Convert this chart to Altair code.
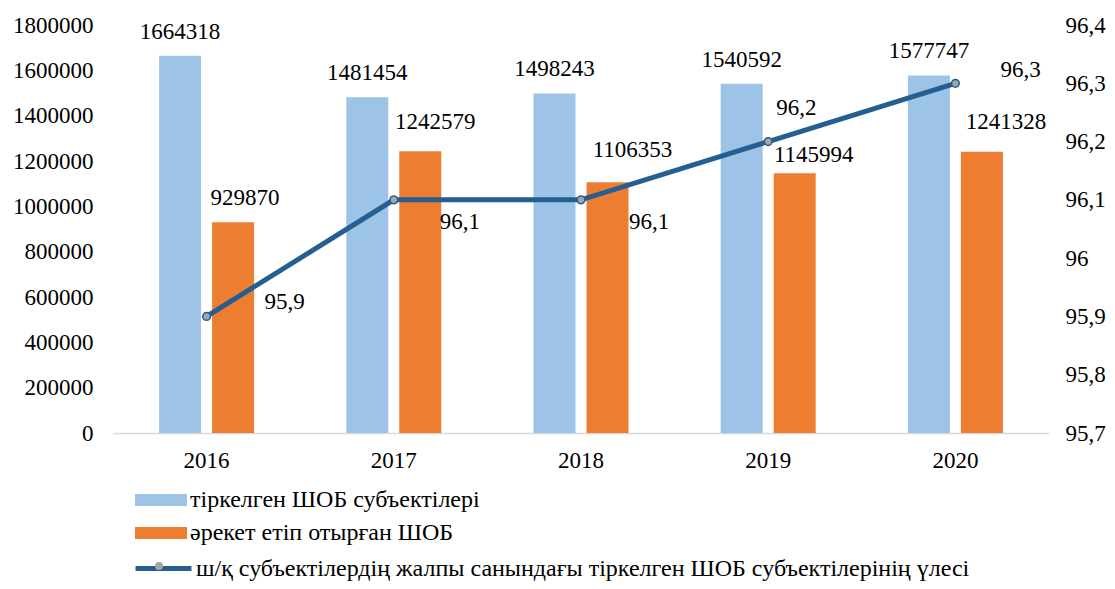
import altair as alt
import pandas as pd

# ---- data ----
years = ["2016", "2017", "2018", "2019", "2020"]
registered = [1664318, 1481454, 1498243, 1540592, 1577747]
active = [929870, 1242579, 1106353, 1145994, 1241328]
share = [95.9, 96.1, 96.1, 96.2, 96.3]

s1 = "тіркелген ШОБ субъектілері"
s2 = "әрекет етіп отырған ШОБ"
s3 = "ш/қ субъектілердің жалпы санындағы тіркелген ШОБ субъектілерінің үлесі"

left_ticks = [0, 200000, 400000, 600000, 800000, 1000000, 1200000, 1400000, 1600000, 1800000]
right_ticks = [95.7, 95.8, 95.9, 96.0, 96.1, 96.2, 96.3, 96.4]

# ---- style ----
BLUE = "#9DC3E6"
ORANGE = "#ED7D31"
LINE = "#255E91"
MARKER = "#A5A5A5"
FONT = "Liberation Serif"
FS = 23
LFS = 24

# label offsets (dx, dy) per year (style only)
orange_off = {"2016": (12, -24), "2017": (15, -29), "2018": (25, -32), "2019": (19, -18), "2020": (24, -30)}
line_off = {"2016": (58, -14), "2017": (46, 22), "2018": (48, 22), "2019": (8, -34), "2020": (45, -13)}

bars_df = pd.DataFrame({
    "year": years * 2,
    "series": [s1] * len(years) + [s2] * len(years),
    "value": registered + active,
})
line_df = pd.DataFrame({"year": years, "share": share, "series": [s3] * len(years), "pt": ["pt"] * len(years)})

x = alt.X("year:N", sort=years,
          scale=alt.Scale(paddingInner=0.4925, paddingOuter=0.2462),
          axis=alt.Axis(title=None, labelAngle=0, ticks=False, grid=False,
                        domainColor="#D9D9D9", domainWidth=1.5, labelPadding=16,
                        labelFont=FONT, labelFontSize=FS, labelColor="#000"))
xo = alt.XOffset("series:N", sort=[s1, s2],
                 scale=alt.Scale(domain=[s1, s2], paddingInner=0.2075, paddingOuter=0))
yL = alt.Y("value:Q", scale=alt.Scale(domain=[0, 1800000], nice=False),
           axis=alt.Axis(title=None, values=left_ticks, format="d", domain=False,
                         ticks=False, grid=False, labelPadding=20,
                         labelFont=FONT, labelFontSize=FS, labelColor="#000"))
yR = alt.Y("share:Q", scale=alt.Scale(domain=[95.7, 96.4], nice=False, zero=False),
           axis=alt.Axis(title=None, orient="right", values=right_ticks,
                         labelExpr="replace(format(datum.value, '.1~f'), '.', ',')",
                         domain=False, ticks=False, grid=False, labelPadding=16,
                         labelFont=FONT, labelFontSize=FS, labelColor="#000"))

bars = alt.Chart(bars_df).mark_bar().encode(
    x=x, xOffset=xo, y=yL,
    fill=alt.Fill("series:N", scale=alt.Scale(domain=[s1, s2], range=[BLUE, ORANGE]),
                  legend=alt.Legend(title=None, orient="none", legendX=35, legendY=462,
                                    direction="vertical",
                                    symbolType="M-2,-0.46H2V0.46H-2Z", symbolSize=676,
                                    symbolStrokeWidth=0, labelOffset=16, rowPadding=8,
                                    padding=0, labelLimit=0,
                                    labelFont=FONT, labelFontSize=LFS, labelColor="#000")),
)

blue_labels = alt.Chart(bars_df).transform_filter(
    alt.FieldEqualPredicate(field="series", equal=s1)
).mark_text(dy=-24, baseline="middle", font=FONT, fontSize=FS, color="#000").encode(
    x=x, xOffset=xo, y=yL, text=alt.Text("value:Q", format="d")
)

orange_labels = []
for yr in years:
    dx, dy = orange_off[yr]
    orange_labels.append(
        alt.Chart(bars_df).transform_filter(
            alt.FieldEqualPredicate(field="series", equal=s2)
        ).transform_filter(
            alt.FieldEqualPredicate(field="year", equal=yr)
        ).mark_text(dx=dx, dy=dy, baseline="middle", font=FONT, fontSize=FS, color="#000").encode(
            x=x, xOffset=xo, y=yL, text=alt.Text("value:Q", format="d")
        )
    )

line = alt.Chart(line_df).mark_line(strokeWidth=5).encode(
    x=x, y=yR,
    stroke=alt.Stroke("series:N", scale=alt.Scale(domain=[s3], range=[LINE]),
                      legend=alt.Legend(title=None, orient="none", legendX=35, legendY=528,
                                        direction="vertical",
                                        symbolType="M-2.15,0H2.15", symbolSize=676,
                                        symbolStrokeWidth=5, labelOffset=17, padding=0,
                                        labelLimit=0,
                                        labelFont=FONT, labelFontSize=LFS, labelColor="#000")),
)

points = alt.Chart(line_df).mark_point(filled=True, size=60, opacity=1, fill=MARKER,
                                       stroke=LINE, strokeWidth=1.5).encode(
    x=x, y=yR,
    shape=alt.Shape("pt:N", scale=alt.Scale(domain=["pt"], range=["circle"]),
                    legend=alt.Legend(title=None, orient="none", legendX=34, legendY=529,
                                      direction="vertical", symbolType="circle", symbolSize=64,
                                      symbolFillColor=MARKER, symbolStrokeColor=LINE,
                                      symbolStrokeWidth=1.5, labelExpr="''", padding=0,
                                      labelFont=FONT, labelFontSize=LFS)),
)

line_labels = []
for yr in years:
    dx, dy = line_off[yr]
    line_labels.append(
        alt.Chart(line_df).transform_filter(
            alt.FieldEqualPredicate(field="year", equal=yr)
        ).transform_calculate(
            lab="replace(format(datum.share, '.1f'), '.', ',')"
        ).mark_text(dx=dx, dy=dy, align="left", baseline="middle", font=FONT, fontSize=FS,
                    color="#000").encode(x=x, y=yR, text="lab:N")
    )

left_layer = alt.layer(bars, blue_labels, *orange_labels)
right_layer = alt.layer(line, points, *line_labels)

chart = alt.layer(left_layer, right_layer).resolve_scale(y="independent").properties(
    width=936, height=408,
    padding={"left": 105, "top": 17, "right": 58, "bottom": 148},
    autosize=alt.AutoSizeParams(type="none"),
).configure(font=FONT).configure_view(stroke=None).configure_axis(
    labelFont=FONT, labelFontSize=FS, labelColor="#000"
).configure_legend(
    labelFont=FONT, labelFontSize=LFS, labelColor="#000"
).configure_text(font=FONT, fontSize=FS)

chart.save("out.html", embed_options={"renderer": "svg", "actions": False})
